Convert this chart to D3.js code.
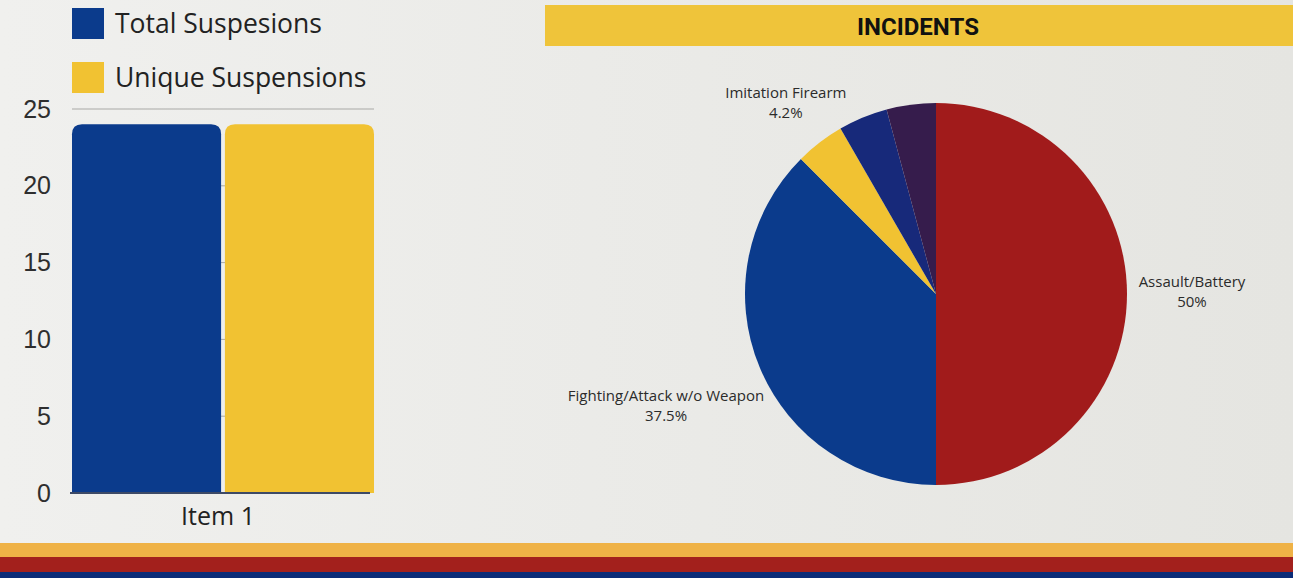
<!DOCTYPE html>
<html>
<head>
<meta charset="utf-8">
<script src="https://cdn.jsdelivr.net/npm/d3@7"></script>
<style>
  html, body { margin: 0; padding: 0; background: #ebebe8; overflow: hidden; }
</style>
</head>
<body>
<div id="chart"></div>
<script>
// data
const barCategories = ["Item 1"]
const barSeries = ["Total Suspesions", "Unique Suspensions"]
const barValues = [24, 24]
const yTicks = [0, 5, 10, 15, 20, 25]

const pieCategories = ["Assault/Battery", "Fighting/Attack w/o Weapon", "Imitation Firearm", "Other A", "Other B"]
const pieValues = [12, 9, 1, 1, 1]
const pieLabelShown = [true, true, true, false, false]
const pieTitle = "INCIDENTS"

const barColors = ["#0b3b8c", "#f1c232"]
const pieColors = ["#a11b1b", "#0b3b8c", "#f1c232", "#17297a", "#361c4c"]

const W = 1293, H = 578

const svg = d3.select("#chart").append("svg")
    .attr("width", W)
    .attr("height", H)

// page background (photo is a bit lighter on the left)
const bg = svg.append("defs").append("linearGradient")
    .attr("id", "bg").attr("x1", 0).attr("x2", 1)
bg.append("stop").attr("offset", "0%").attr("stop-color", "#f0f0ee")
bg.append("stop").attr("offset", "100%").attr("stop-color", "#e5e5e1")
svg.append("rect").attr("width", W).attr("height", H).attr("fill", "url(#bg)")

// bottom stripes
svg.append("rect").attr("x", 0).attr("y", 543).attr("width", W).attr("height", 14).attr("fill", "#efb246")
svg.append("rect").attr("x", 0).attr("y", 557).attr("width", W).attr("height", 15).attr("fill", "#a3201c")
svg.append("rect").attr("x", 0).attr("y", 572).attr("width", W).attr("height", 6).attr("fill", "#0b2c78")

// ---------- bar chart ----------
const margin = {top: 109, left: 72}
const bw = 302, bh = 384

const g = svg.append("g")
    .attr("transform", `translate(${margin.left},${margin.top})`)

const yScale = d3.scaleLinear().domain([0, 25]).range([bh, 0])
const x0 = d3.scaleBand().domain(barCategories).range([0, bw]).padding(0)
const x1 = d3.scaleBand().domain(barSeries).range([0, x0.bandwidth()]).paddingInner(0.025)

// grid
g.selectAll(".grid").data(yTicks.filter(d => d > 0)).join("line")
    .attr("x1", 0).attr("x2", bw)
    .attr("y1", d => yScale(d)).attr("y2", d => yScale(d))
    .attr("stroke", "#a9a9a6").attr("stroke-width", 1)

const yAxis = d3.axisLeft(yScale).tickValues(yTicks).tickSize(0).tickPadding(21)
g.append("g").call(yAxis)
    .call(s => s.select(".domain").remove())
    .selectAll("text")
    .attr("font-family", "Liberation Sans, Arial, sans-serif")
    .attr("font-size", 25)
    .attr("fill", "#2e2e2e")

// bars with rounded tops
function topRounded(x, y, w, h, r) {
    return `M${x},${y + h}V${y + r}Q${x},${y} ${x + r},${y}H${x + w - r}Q${x + w},${y} ${x + w},${y + r}V${y + h}Z`
}
barCategories.forEach(cat => {
    g.selectAll(".bar").data(barSeries.map((s, i) => ({s, v: barValues[i], i}))).join("path")
        .attr("d", d => topRounded(x0(cat) + x1(d.s), yScale(d.v), x1.bandwidth(), bh - yScale(d.v), 10))
        .attr("fill", d => barColors[d.i])
})

// baseline
g.append("line").attr("x1", -2).attr("x2", bw - 4).attr("y1", bh).attr("y2", bh)
    .attr("stroke", "#3d4a66").attr("stroke-width", 2)

const xAxis = d3.axisBottom(x0).tickSize(0).tickPadding(14)
g.append("g").attr("transform", `translate(-5,${bh})`).call(xAxis)
    .call(s => s.select(".domain").remove())
    .selectAll("text")
    .attr("font-family", "Open Sans, sans-serif")
    .attr("font-size", 25)
    .attr("fill", "#222")

// legend
const legend = svg.append("g").attr("transform", "translate(72,8)")
const li = legend.selectAll("g").data(barSeries).join("g")
    .attr("transform", (d, i) => `translate(0,${i * 54})`)
li.append("rect").attr("width", 32).attr("height", 31).attr("fill", (d, i) => barColors[i])
li.append("text").attr("x", 43).attr("y", 25)
    .attr("font-family", "Open Sans, sans-serif")
    .attr("font-size", 26.5)
    .attr("fill", "#222")
    .text(d => d)

// ---------- pie ----------
svg.append("rect").attr("x", 545).attr("y", 5).attr("width", W - 545).attr("height", 41).attr("fill", "#efc43a")
svg.append("text").attr("x", 918).attr("y", 35)
    .attr("text-anchor", "middle")
    .attr("font-family", "Roboto, sans-serif")
    .attr("font-weight", "bold")
    .attr("font-size", 24)
    .attr("fill", "#111")
    .text(pieTitle)

const cx = 936, cy = 294, radius = 191
const pg = svg.append("g").attr("transform", `translate(${cx},${cy})`)

const pie = d3.pie().sort(null).value(d => d.v)
const arcs = pie(pieCategories.map((c, i) => ({c, v: pieValues[i], i})))
const arc = d3.arc().innerRadius(0).outerRadius(radius)
const labelArc = d3.arc().innerRadius(250).outerRadius(250)

pg.selectAll("path").data(arcs).join("path")
    .attr("d", arc)
    .attr("fill", d => pieColors[d.data.i])

const total = d3.sum(pieValues)
const fmt = v => {
    const p = v / total * 100
    return (Math.round(p * 10) / 10) + "%"
}

// small nudges so long labels clear the pie edge
const nudge = {"Assault/Battery": [6, -3], "Fighting/Attack w/o Weapon": [-39, 15], "Imitation Firearm": [2, 6]}

const lab = pg.selectAll(".lab").data(arcs.filter(d => pieLabelShown[d.data.i])).join("text")
    .attr("transform", d => {
        const [x, y] = labelArc.centroid(d)
        const [dx, dy] = nudge[d.data.c] || [0, 0]
        return `translate(${x + dx},${y + dy})`
    })
    .attr("text-anchor", "middle")
    .attr("font-family", "Open Sans, sans-serif")
    .attr("font-size", 15)
    .attr("fill", "#2b2b2b")
lab.append("tspan").attr("x", 0).attr("dy", "-0.27em").text(d => d.data.c)
lab.append("tspan").attr("x", 0).attr("dy", "1.35em").text(d => fmt(d.data.v))
</script>
</body>
</html>
